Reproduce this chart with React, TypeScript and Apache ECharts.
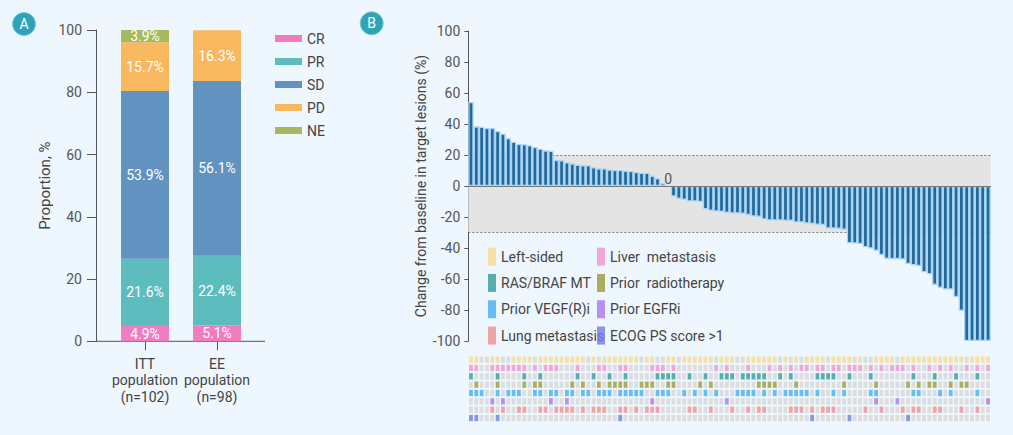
import React, { useEffect, useRef } from "react";
import * as echarts from "echarts";

// ---------- Panel A data ----------
const populations = ["ITT\npopulation\n(n=102)", "EE\npopulation\n(n=98)"];
const responseNames = ["CR", "PR", "SD", "PD", "NE"];
const crValues = [4.9, 5.1];
const prValues = [21.6, 22.4];
const sdValues = [53.9, 56.1];
const pdValues = [15.7, 16.3];
const neValues = [3.9, 0];
const responseColors = ["#f27cc0", "#5dbcbd", "#6192c0", "#f8b860", "#a8b85c"];

// ---------- Panel B data ----------
const changeValues = [
  54.2, 38.5, 38.3, 37.4, 37.4, 35.5, 33.8, 30.8, 28.6, 27.1,
  26.9, 26.3, 25.2, 24.1, 23.0, 22.8, 16.8, 16.6, 15.3, 14.6,
  13.8, 13.5, 13.4, 12.1, 11.4, 11.4, 10.6, 10.3, 10.3, 9.9,
  9.7, 9.0, 8.6, 8.6, 6.7, 5.0, 1.9, 0, -6.8, -8.3,
  -8.9, -10.0, -10.0, -10.4, -15.0, -16.0, -16.5, -16.7, -17.3, -17.7,
  -17.7, -18.0, -18.8, -19.7, -19.9, -21.6, -22.3, -22.3, -22.3, -22.5,
  -22.5, -23.5, -23.5, -24.2, -24.6, -25.0, -25.2, -27.4, -27.5, -27.6,
  -28.3, -36.9, -37.1, -37.5, -39.5, -40.3, -41.8, -44.6, -47.0, -47.2,
  -47.2, -47.4, -50.4, -51.1, -51.7, -55.6, -56.9, -63.8, -65.7, -66.8,
  -66.8, -71.7, -80.5, -100, -100, -100, -100, -100,
];
const zeroLabelIndex = 37;
const bandLow = -30;
const bandHigh = 20;

const traitNames = [
  "Left-sided",
  "Liver  metastasis",
  "RAS/BRAF MT",
  "Prior  radiotherapy",
  "Prior VEGF(R)i",
  "Prior EGFRi",
  "Lung metastasis",
  "ECOG PS score >1",
];
const traitColors = ["#f8d993", "#f092d0", "#2f9c99", "#9c9b34", "#44aef2", "#a678ec", "#f08e8e", "#727ae8"];

// patient columns (1-based) having each characteristic
const leftSided = [1, 2, 5, 6, 9, 10, 11, 12, 14, 15, 16, 17, 18, 19, 20, 21, 22, 24, 26, 27, 28, 29, 30, 31, 32, 34, 35, 38, 39, 41, 42, 43, 44, 45, 46, 48, 49, 50, 53, 54, 55, 56, 57, 58, 60, 62, 64, 65, 66, 67, 69, 70, 71, 72, 74, 77, 78, 79, 80, 82, 83, 84, 85, 86, 87, 88, 89, 90, 91, 92, 93, 95, 96, 97, 98];
const liverMet = [1, 2, 5, 6, 7, 8, 9, 10, 11, 13, 15, 16, 17, 21, 25, 26, 29, 30, 35, 36, 37, 39, 47, 49, 53, 57, 59, 61, 63, 64, 66, 67, 69, 70, 72, 73, 74, 76, 78, 80, 81, 82, 84, 87, 89, 91, 94, 96, 98];
const rasBraf = [1, 6, 11, 14, 21, 24, 27, 30, 36, 37, 38, 39, 42, 45, 48, 49, 50, 52, 53, 54, 55, 56, 59, 61, 66, 67, 68, 69, 72, 76, 84, 88, 92, 96];
const priorRadio = [2, 6, 11, 13, 14, 20, 22, 25, 27, 28, 29, 30, 33, 34, 35, 38, 39, 44, 46, 55, 56, 57, 58, 62, 71, 77, 83, 85, 87, 88, 91, 93, 94];
const priorVegf = [1, 2, 3, 6, 8, 9, 10, 13, 14, 16, 17, 19, 20, 22, 23, 25, 26, 27, 29, 30, 31, 32, 33, 36, 37, 38, 41, 43, 45, 47, 51, 52, 53, 54, 56, 58, 60, 61, 62, 63, 64, 66, 69, 71, 76, 77, 84, 85, 89, 91, 96];
const priorEgfr = [5, 7, 16, 19, 35, 49, 77, 81, 98];
const lungMet = [5, 7, 10, 11, 14, 15, 17, 18, 19, 20, 22, 24, 25, 26, 29, 30, 32, 34, 35, 36, 42, 43, 46, 50, 53, 55, 56, 61, 62, 63, 65, 67, 68, 69, 75, 78, 82, 84, 85, 88, 89, 93, 96];
const ecogPs = [1, 2, 6, 29, 65, 72, 83];
const traitColumns = [leftSided, liverMet, rasBraf, priorRadio, priorVegf, priorEgfr, lungMet, ecogPs];

const FONT = "Roboto, 'Noto Sans', sans-serif";

export default function App() {
  const ref = useRef<HTMLDivElement>(null);

  useEffect(() => {
    if (!ref.current) return;
    const chart = echarts.init(ref.current, null, { renderer: "svg" });

    const patients = changeValues.map((_, i) => String(i + 1));

    const responseSeries = [crValues, prValues, sdValues, pdValues, neValues].map((vals, k) => ({
      name: responseNames[k],
      type: "bar",
      stack: "resp",
      xAxisIndex: 0,
      yAxisIndex: 0,
      barWidth: 48,
      itemStyle: { color: responseColors[k] },
      label: {
        show: true,
        position: "inside",
        color: "#ffffff",
        fontSize: 14,
        fontFamily: FONT,
        formatter: (p: any) => (p.value > 0 ? p.value.toFixed(1) + "%" : ""),
      },
      data: vals,
    }));

    const barData = changeValues.map((v, i) =>
      i === zeroLabelIndex
        ? {
            value: v,
            itemStyle: { borderWidth: 0 },
            label: { show: true, position: "top", distance: 0, formatter: "0", color: "#555", fontSize: 14, fontFamily: FONT },
          }
        : v
    );

    const greyCells: number[][] = [];
    traitColumns.forEach((cols, r) => {
      for (let c = 1; c <= changeValues.length; c++) {
        if (!cols.includes(c)) greyCells.push([c - 1, r]);
      }
    });

    const traitSeries = traitColumns.map((cols, r) => ({
      name: traitNames[r],
      type: "scatter",
      xAxisIndex: 2,
      yAxisIndex: 2,
      symbol: "rect",
      symbolSize: [3.8, 6.3],
      itemStyle: { color: traitColors[r] },
      silent: true,
      data: cols.map((c) => [c - 1, r]),
    }));

    const legendText = { fontSize: 14, color: "#444", fontFamily: FONT };

    chart.setOption({
      animation: false,
      backgroundColor: "#eef7fd",
      textStyle: { fontFamily: FONT },
      grid: [
        { left: 109, top: 30, width: 144, height: 311.3 },
        { left: 468.3, top: 31, width: 522.4, height: 310 },
        { left: 468.3, top: 355.5, width: 522.4, height: 66.7 },
      ],
      xAxis: [
        {
          type: "category",
          gridIndex: 0,
          data: populations,
          axisLine: { show: false },
          axisTick: { show: true, alignWithLabel: true, length: 9, lineStyle: { color: "#555" } },
          axisLabel: { interval: 0, fontSize: 14, lineHeight: 16.5, color: "#444", margin: 14, fontFamily: FONT },
        },
        {
          type: "category",
          gridIndex: 1,
          data: patients,
          z: 3,
          axisLine: { show: true, onZero: true, lineStyle: { color: "#777", width: 1 } },
          axisTick: { show: false },
          axisLabel: { show: false },
        },
        {
          type: "category",
          gridIndex: 2,
          data: patients,
          show: false,
        },
      ],
      yAxis: [
        {
          type: "value",
          gridIndex: 0,
          min: 0,
          max: 100,
          interval: 20,
          offset: 13,
          name: "Proportion, %",
          nameLocation: "middle",
          nameGap: 44,
          nameMoveOverlap: false,
          nameTextStyle: { fontSize: 15, color: "#444", fontFamily: FONT },
          axisLine: { show: true, lineStyle: { color: "#555" } },
          axisTick: { show: true, length: 9, lineStyle: { color: "#555" } },
          axisLabel: { fontSize: 14, color: "#555", margin: 14, fontFamily: FONT },
          splitLine: { show: false },
        },
        {
          type: "value",
          gridIndex: 1,
          min: -100,
          max: 100,
          interval: 20,
          name: "Change from baseline in target lesions (%)",
          nameLocation: "middle",
          nameGap: 40,
          nameMoveOverlap: false,
          nameTextStyle: { fontSize: 14, color: "#444", fontFamily: FONT },
          axisLine: { show: true, lineStyle: { color: "#555" } },
          axisTick: { show: true, length: 4, lineStyle: { color: "#555" } },
          axisLabel: { fontSize: 14, color: "#555", margin: 8, fontFamily: FONT },
          splitLine: { show: false },
        },
        {
          type: "category",
          gridIndex: 2,
          data: traitNames,
          inverse: true,
          show: false,
        },
      ],
      legend: [
        {
          data: responseNames,
          orient: "vertical",
          left: 270,
          top: 22,
          itemWidth: 27,
          itemHeight: 7,
          itemGap: 0,
          icon: "rect",
          selectedMode: false,
          textStyle: { ...legendText, lineHeight: 23 },
        },
        {
          data: [traitNames[0], traitNames[2], traitNames[4], traitNames[6]],
          orient: "vertical",
          left: 483,
          top: 238.5,
          itemWidth: 8,
          itemHeight: 18,
          itemGap: 0,
          icon: "rect",
          selectedMode: false,
          textStyle: { ...legendText, lineHeight: 26.3 },
        },
        {
          data: [traitNames[1], traitNames[3], traitNames[5], traitNames[7]],
          orient: "vertical",
          left: 592,
          top: 238.5,
          itemWidth: 8,
          itemHeight: 18,
          itemGap: 0,
          icon: "rect",
          selectedMode: false,
          textStyle: { ...legendText, lineHeight: 26.3 },
        },
      ],
      graphic: [
        { type: "line", shape: { x1: 96, y1: 341.3, x2: 265, y2: 341.3 }, style: { stroke: "#555", lineWidth: 1 }, silent: true },
        { type: "circle", shape: { cx: 24, cy: 24, r: 11.5 }, style: { fill: "#2ea4b6", stroke: "#7fcbd6", lineWidth: 1 }, silent: true },
        { type: "text", x: 24, y: 24, style: { text: "A", fill: "#fff", fontSize: 14, fontFamily: FONT, align: "center", verticalAlign: "middle" }, silent: true },
        { type: "circle", shape: { cx: 371.7, cy: 23.3, r: 11.5 }, style: { fill: "#2ea4b6", stroke: "#7fcbd6", lineWidth: 1 }, silent: true },
        { type: "text", x: 371.7, y: 23.3, style: { text: "B", fill: "#fff", fontSize: 14, fontFamily: FONT, align: "center", verticalAlign: "middle" }, silent: true },
      ],
      series: [
        ...responseSeries,
        {
          name: "change",
          type: "bar",
          xAxisIndex: 1,
          yAxisIndex: 1,
          barCategoryGap: "0%",
          z: 2,
          itemStyle: { color: "#22689f", borderColor: "#a9d5f2", borderWidth: 1.3 },
          data: barData,
          markArea: {
            silent: true,
            z: 1,
            itemStyle: { color: "#e4e4e4" },
            data: [[{ yAxis: bandLow }, { yAxis: bandHigh }]],
          },
          markLine: {
            silent: true,
            z: 1,
            symbol: ["none", "none"],
            label: { show: false },
            lineStyle: { color: "#666", type: [2, 2], width: 0.8 },
            data: [{ yAxis: bandHigh }, { yAxis: bandLow }],
          },
        },
        {
          name: "grey",
          type: "scatter",
          xAxisIndex: 2,
          yAxisIndex: 2,
          symbol: "rect",
          symbolSize: [3.8, 6.3],
          itemStyle: { color: "#d6d6d6" },
          silent: true,
          data: greyCells,
        },
        ...traitSeries,
      ],
    });

    return () => chart.dispose();
  }, []);

  return (
    <div style={{ position: "fixed", left: 0, top: 0, width: 1013, height: 435, background: "#eef7fd" }}>
      <div ref={ref} style={{ width: 1013, height: 435 }} />
    </div>
  );
}
